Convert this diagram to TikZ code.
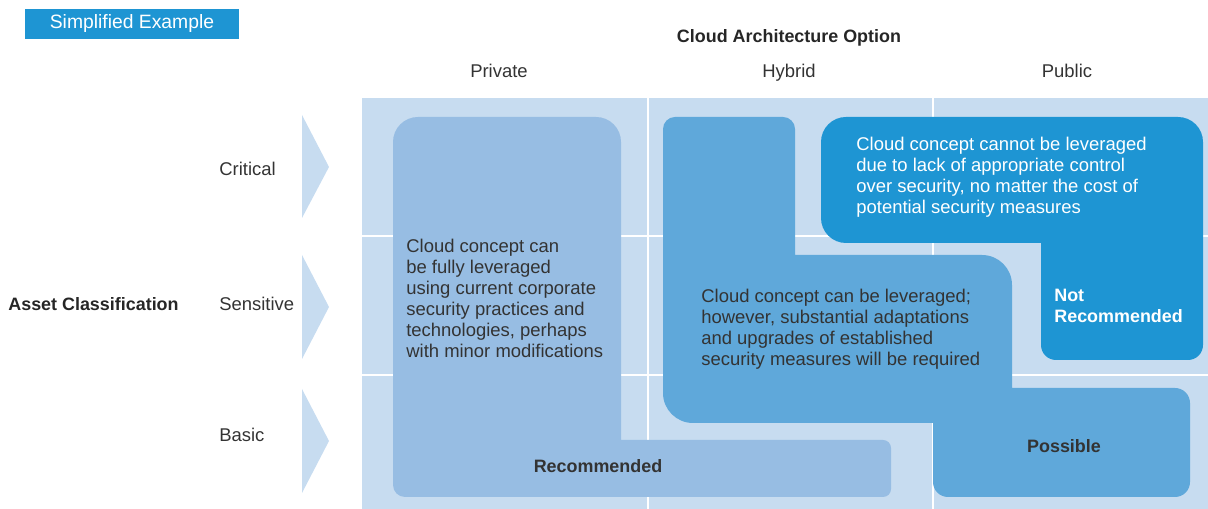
\documentclass[tikz,border=0pt]{standalone}
\usepackage{fontspec}
\setmainfont{Liberation Sans}

\definecolor{bgblue}{HTML}{C7DCF0}
\definecolor{recblue}{HTML}{97BDE3}
\definecolor{posblue}{HTML}{5FA8DA}
\definecolor{notblue}{HTML}{1E95D3}
\definecolor{txtgrey}{HTML}{333333}

\tikzstyle{bodytext} = [font = \fontsize{10.5}{12}\selectfont, text = txtgrey, align = left, anchor = north west, inner sep = 0]
\tikzstyle{verdict} = [font = \fontsize{10.2}{12}\selectfont\bfseries, text = txtgrey, anchor = base, inner sep = 0]
\tikzstyle{rowlabel} = [font = \fontsize{10.5}{12}\selectfont, text = txtgrey, anchor = base west, inner sep = 0]
\tikzstyle{collabel} = [font = \fontsize{10.5}{12}\selectfont, text = txtgrey, anchor = base, inner sep = 0]
\tikzstyle{chevron} = [fill = bgblue]
\tikzstyle{gridline} = [white, line width = 1.1pt]

\begin{document}
\begin{tikzpicture}[x = 0.02cm, y = -0.02cm]
		\useasboundingbox (0, 0) rectangle (1208, 509);

		% title tag
		\fill [notblue] (25, 9) rectangle (239, 39);
		\node [font = \fontsize{11}{13}\selectfont, text = white, anchor = base, inner sep = 0] at (132, 29) (tag) {Simplified Example};

		% headers
		\node [verdict, text = black!85] at (789, 43) (option) {Cloud Architecture Option};
		\node [collabel] at (499, 78) (private) {Private};
		\node [collabel] at (789, 78) (hybrid) {Hybrid};
		\node [collabel] at (1067, 78) (public) {Public};

		\node [rowlabel, font = \fontsize{10.2}{12}\selectfont\bfseries, text = black!85] at (8, 311) (asset) {Asset Classification};
		\node [rowlabel] at (219, 176) (critical) {Critical};
		\node [rowlabel] at (219, 311) (sensitive) {Sensitive};
		\node [rowlabel] at (219, 442) (basic) {Basic};

		\fill [chevron] (302, 115) -- (329, 167) -- (302, 218) -- cycle;
		\fill [chevron] (302, 255) -- (329, 307) -- (302, 359) -- cycle;
		\fill [chevron] (302, 389) -- (329, 441) -- (302, 493) -- cycle;

		% matrix background
		\fill [bgblue] (362, 98) rectangle (1208, 509);
		\draw [gridline] (648, 98) -- (648, 509);
		\draw [gridline] (933, 98) -- (933, 509);
		\draw [gridline] (362, 236) -- (1208, 236);
		\draw [gridline] (362, 375) -- (1208, 375);

		% recommended
		\fill [recblue] (393, 300) [rounded corners = 0.5cm] -- (393, 117) -- (621, 117) -- (621, 300)
			[sharp corners] -- (621, 440) -- (750, 440)
			[rounded corners = 0.16cm] -- (891, 440) -- (891, 497) -- (600, 497)
			[rounded corners = 0.24cm] -- (393, 497) -- cycle;

		% possible
		\fill [posblue] (663, 300) [rounded corners = 0.24cm] -- (663, 117) -- (795, 117) -- (795, 200)
			[sharp corners] -- (795, 255) -- (900, 255)
			[rounded corners = 0.6cm] -- (1012, 255) -- (1012, 330)
			[sharp corners] -- (1012, 388) -- (1100, 388)
			[rounded corners = 0.3cm] -- (1190, 388) -- (1190, 497) -- (933, 497) -- (933, 460)
			[sharp corners] -- (933, 423) -- (800, 423)
			[rounded corners = 0.6cm] -- (663, 423) -- cycle;

		% not recommended
		\fill [notblue] (821, 180) [rounded corners = 0.5cm] -- (821, 117) -- (1203, 117) -- (1203, 200)
			[rounded corners = 0.3cm] -- (1203, 360) -- (1041, 360) -- (1041, 300)
			[sharp corners] -- (1041, 243) -- (950, 243)
			[rounded corners = 0.5cm] -- (821, 243) -- cycle;

		\node [bodytext] at (406, 238.4) (rectext) {Cloud concept can\\be fully leveraged\\using current corporate\\security practices and\\technologies, perhaps\\with minor modifications};
		\node [bodytext] at (701, 288.4) (postext) {Cloud concept can be leveraged;\\however, substantial adaptations\\and upgrades of established\\security measures will be required};
		\node [bodytext, text = white] at (856, 136.7) (nottext) {Cloud concept cannot be leveraged\\due to lack of appropriate control\\over security, no matter the cost of\\potential security measures};

		\node [verdict] at (598, 473) (rec) {Recommended};
		\node [verdict] at (1064, 453) (pos) {Possible};
		\node [verdict, text = white, anchor = north west, align = left] at (1054, 288.7) (notrec) {Not\\Recommended};
	\end{tikzpicture}
\end{document}
